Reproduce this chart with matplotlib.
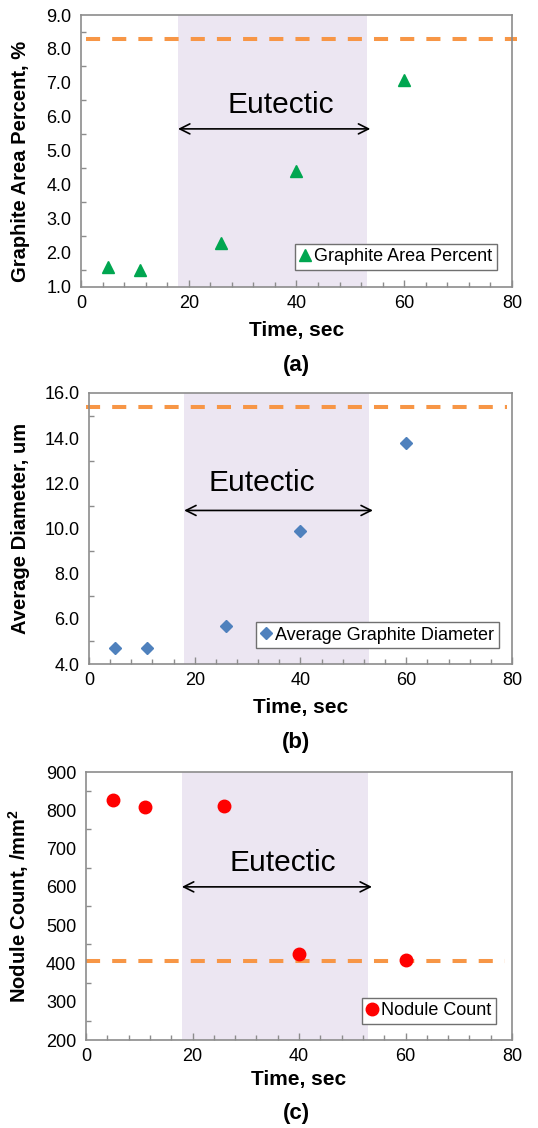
import matplotlib
matplotlib.use('Agg')
import matplotlib.pyplot as plt
from matplotlib.ticker import MultipleLocator, FormatStrFormatter

plt.rcParams['font.family'] = ['Liberation Sans', 'DejaVu Sans']

# data
time_sec = [5, 11, 26, 40, 60]
area_pct = [1.6, 1.5, 2.3, 4.4, 7.1]
avg_diam = [4.7, 4.7, 5.7, 9.9, 13.8]
nod_count = [828, 808, 812, 424, 408]

eutectic_start = 18
eutectic_end = 53

ref_area = 8.3
ref_diam = 15.4
ref_count = 406

spine_col = '#8c8c8c'
shade_col = '#ece6f2'
dash_col = '#f79646'

fig = plt.figure(figsize=(5.38, 11.28), dpi=100)

panels = [
    dict(rect=[0.1506, 0.7456, 0.801, 0.2411], y=area_pct, ylim=(1, 9), ymaj=1, ymin=0.5,
         fmt='%.1f', ylabel='Graphite Area Percent, %', ref=ref_area, refx=(0.9, 80.9),
         marker='^', color='#00a650', ms=8.5, label='Graphite Area Percent',
         arrow_y=5.65, text_xy=(37, 6.35), leg=(0.965, 0.0625), tag='(a)', tag_y=0.676,
         ylab=(-0.118, 0.46), xlab_y=-0.125),
    dict(rect=[0.1654, 0.4113, 0.7862, 0.2403], y=avg_diam, ylim=(4, 16), ymaj=2, ymin=1,
         fmt='%.1f', ylabel='Average Diameter, um', ref=ref_diam, refx=(-0.6, 79),
         marker='D', color='#4f81bd', ms=6.5, label='Average Graphite Diameter',
         arrow_y=10.8, text_xy=(32.7, 12.0), leg=(0.969, 0.059), tag='(b)', tag_y=0.342,
         ylab=(-0.14, 0.5), xlab_y=-0.125),
    dict(rect=[0.1599, 0.078, 0.7918, 0.2376], y=nod_count, ylim=(200, 900), ymaj=100, ymin=50,
         fmt='%d', ylabel='Nodule Count, /mm$^\\mathregular{2}$', ref=ref_count, refx=(0, 78.7),
         marker='o', color='#ff0000', ms=9, label='Nodule Count',
         arrow_y=600, text_xy=(37, 662), leg=(0.962, 0.06), tag='(c)', tag_y=0.013,
         ylab=(-0.129, 0.5), xlab_y=-0.112),
]

for p in panels:
    ax = fig.add_axes(p['rect'])
    ax.set_xlim(0, 80)
    ax.set_ylim(*p['ylim'])
    ax.axvspan(eutectic_start, eutectic_end, color=shade_col, lw=0, zorder=0)
    ax.plot(p['refx'], [p['ref'], p['ref']], color=dash_col, lw=2.9,
            dashes=(3.5, 3), clip_on=False, zorder=2)
    ax.plot(time_sec, p['y'], linestyle='none', marker=p['marker'], color=p['color'],
            ms=p['ms'], label=p['label'], zorder=3)
    ax.annotate('', xy=(eutectic_end + 0.7, p['arrow_y']), xytext=(eutectic_start, p['arrow_y']),
                arrowprops=dict(arrowstyle='<->', color='black', lw=1.2,
                                mutation_scale=18, shrinkA=0, shrinkB=0))
    ax.text(p['text_xy'][0], p['text_xy'][1], 'Eutectic', fontsize=21.5,
            ha='center', va='center')

    ax.xaxis.set_major_locator(MultipleLocator(20))
    ax.xaxis.set_minor_locator(MultipleLocator(4))
    ax.yaxis.set_major_locator(MultipleLocator(p['ymaj']))
    ax.yaxis.set_minor_locator(MultipleLocator(p['ymin']))
    ax.yaxis.set_major_formatter(FormatStrFormatter(p['fmt']))
    ax.tick_params(which='both', direction='in', color=spine_col, labelsize=13,
                   top=False, right=False)
    ax.tick_params(which='major', length=5, width=1)
    ax.tick_params(which='minor', length=3.5, width=1)
    ax.tick_params(axis='y', which='major', length=0, pad=7)
    ax.tick_params(axis='x', pad=6)
    for s in ax.spines.values():
        s.set_color(spine_col)
        s.set_linewidth(1.2)

    ax.set_xlabel('Time, sec', fontsize=15, fontweight='bold', va='top')
    ax.set_ylabel(p['ylabel'], fontsize=14.5, fontweight='bold')
    ax.xaxis.set_label_coords(0.5, p['xlab_y'])
    ax.yaxis.set_label_coords(*p['ylab'])

    leg = ax.legend(loc='lower right', bbox_to_anchor=p['leg'], borderaxespad=0,
                    fontsize=13, handlelength=0.6, handletextpad=0.2,
                    borderpad=0.25, fancybox=False, framealpha=1)
    leg.get_frame().set_edgecolor('#707070')
    leg.get_frame().set_linewidth(1.0)

    fig.text(0.551, p['tag_y'], p['tag'], fontsize=16, fontweight='bold',
             ha='center', va='center')

plt.savefig('out.png', dpi=100)
